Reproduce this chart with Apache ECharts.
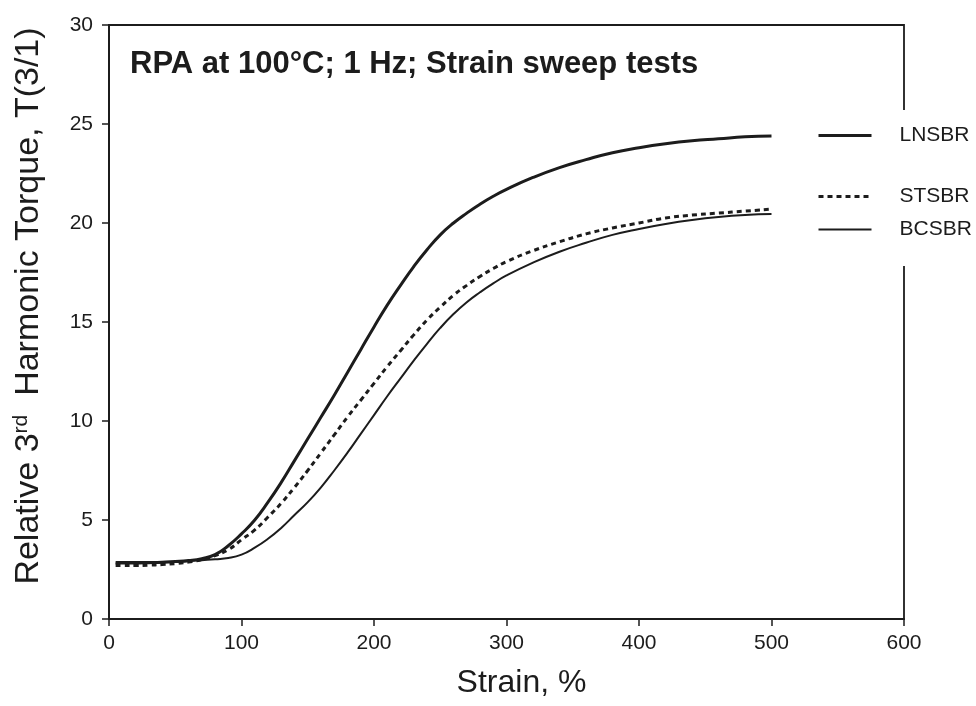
<!DOCTYPE html>
<html>
<head>
<meta charset="utf-8">
<script src="https://cdn.jsdelivr.net/npm/echarts@6/dist/echarts.min.js"></script>
<style>
  html, body { margin: 0; padding: 0; background: #fff; }
  #chart { width: 976px; height: 706px; }
</style>
</head>
<body>
<div id="chart"></div>
<script>
const strain = [5, 10, 20, 30, 40, 50, 60, 70, 80, 90, 100, 110, 120, 130, 140, 150, 160, 170, 180, 190, 200, 210, 220, 230, 240, 250, 260, 270, 280, 290, 300, 320, 340, 360, 380, 400, 420, 440, 460, 480, 500];
const lnsbr = [2.85, 2.85, 2.85, 2.85, 2.87, 2.9, 2.95, 3.05, 3.25, 3.7, 4.3, 5.0, 5.9, 6.9, 8.0, 9.1, 10.2, 11.3, 12.45, 13.6, 14.75, 15.85, 16.85, 17.8, 18.65, 19.4, 20.0, 20.5, 20.95, 21.35, 21.7, 22.3, 22.8, 23.2, 23.55, 23.8, 24.0, 24.15, 24.25, 24.35, 24.4];
const stsbr = [2.7, 2.7, 2.7, 2.72, 2.75, 2.8, 2.88, 3.0, 3.2, 3.5, 4.0, 4.5, 5.15, 5.85, 6.65, 7.5, 8.4, 9.3, 10.2, 11.05, 11.9, 12.75, 13.55, 14.35, 15.1, 15.75, 16.35, 16.85, 17.3, 17.7, 18.05, 18.6, 19.05, 19.45, 19.75, 20.0, 20.25, 20.4, 20.5, 20.6, 20.7];
const bcsbr = [2.8, 2.8, 2.8, 2.82, 2.85, 2.88, 2.92, 2.97, 3.02, 3.08, 3.25, 3.6, 4.05, 4.6, 5.25, 5.9, 6.65, 7.5, 8.4, 9.35, 10.3, 11.25, 12.15, 13.05, 13.9, 14.7, 15.4, 16.0, 16.5, 16.95, 17.35, 18.0, 18.55, 19.0, 19.4, 19.7, 19.95, 20.15, 20.3, 20.4, 20.45];
const xTicks = [0, 100, 200, 300, 400, 500, 600];
const yTicks = [0, 5, 10, 15, 20, 25, 30];
const seriesNames = ['LNSBR', 'STSBR', 'BCSBR'];
const titleText = 'RPA at 100°C; 1 Hz; Strain sweep tests';

const FONT = '"Liberation Sans", Arial, sans-serif';
const INK = '#1c1c1c';

function pairs(ys) { return strain.map((x, i) => [x, ys[i]]); }

const lineStyles = [
  { color: INK, width: 3 },
  { color: INK, width: 3, type: [5, 4] },
  { color: INK, width: 2 }
];

const legendCommon = {
  orient: 'vertical', left: 812, backgroundColor: '#fff',
  itemWidth: 53, itemHeight: 14,
  itemStyle: { opacity: 0 },
  textStyle: { fontFamily: FONT, fontSize: 21, color: INK, padding: [0, 0, 0, 23] }
};

const chart = echarts.init(document.getElementById('chart'), null, { renderer: 'canvas' });
chart.setOption({
  backgroundColor: '#fff',
  animation: false,
  title: {
    text: titleText,
    left: 130, top: 49, padding: 0,
    textStyle: { fontFamily: FONT, fontSize: 31, fontWeight: 'bold', color: INK }
  },
  grid: {
    left: 109, right: 72, top: 25, bottom: 87,
    show: true, borderColor: INK, borderWidth: 1.8, backgroundColor: 'transparent'
  },
  legend: [
    Object.assign({}, legendCommon, {
      data: [{ name: seriesNames[0], lineStyle: lineStyles[0] }],
      top: 110, padding: [15, 20, 25, 5]
    }),
    Object.assign({}, legendCommon, {
      data: [
        { name: seriesNames[1], lineStyle: lineStyles[1] },
        { name: seriesNames[2], lineStyle: lineStyles[2] }
      ],
      itemGap: 12, top: 166, padding: [20, 20, 26, 5]
    })
  ],
  xAxis: {
    type: 'value', min: 0, max: 600, interval: 100,
    name: 'Strain, %', nameLocation: 'middle', nameGap: 48,
    nameTextStyle: { fontFamily: FONT, fontSize: 32, color: INK, padding: [0, 0, 0, 30] },
    axisLine: { show: true, lineStyle: { color: INK, width: 2 } },
    axisTick: { show: true, inside: false, length: 7, lineStyle: { color: INK, width: 1.5 } },
    axisLabel: {
      fontFamily: FONT, fontSize: 21, color: INK, margin: 14,
      formatter: v => xTicks.includes(v) ? String(v) : ''
    },
    splitLine: { show: false }
  },
  yAxis: {
    type: 'value', min: 0, max: 30, interval: 5,
    name: '{a|Relative 3}{s|rd}{a|  Harmonic Torque, T(3/1)}',
    nameLocation: 'middle', nameGap: 62, nameRotate: 90,
    nameTextStyle: {
      fontFamily: FONT, fontSize: 34, color: INK, padding: [0, 0, 0, 32],
      rich: {
        a: { fontFamily: FONT, fontSize: 34, color: INK },
        s: { fontFamily: FONT, fontSize: 21, color: INK, verticalAlign: 'top', padding: [0, 0, 15, 0] }
      }
    },
    axisLine: { show: true, lineStyle: { color: INK, width: 2 } },
    axisTick: { show: true, inside: false, length: 7, lineStyle: { color: INK, width: 1.5 } },
    axisLabel: {
      fontFamily: FONT, fontSize: 21, color: INK, margin: 16,
      formatter: v => yTicks.includes(v) ? String(v) : ''
    },
    splitLine: { show: false }
  },
  series: [
    {
      name: seriesNames[0], type: 'line', data: pairs(lnsbr), smooth: 0.5,
      symbol: 'none', lineStyle: lineStyles[0], itemStyle: { color: INK }
    },
    {
      name: seriesNames[1], type: 'line', data: pairs(stsbr), smooth: 0.5,
      symbol: 'none', lineStyle: lineStyles[1], itemStyle: { color: INK }
    },
    {
      name: seriesNames[2], type: 'line', data: pairs(bcsbr), smooth: 0.5,
      symbol: 'none', lineStyle: lineStyles[2], itemStyle: { color: INK }
    }
  ]
});
</script>
</body>
</html>
